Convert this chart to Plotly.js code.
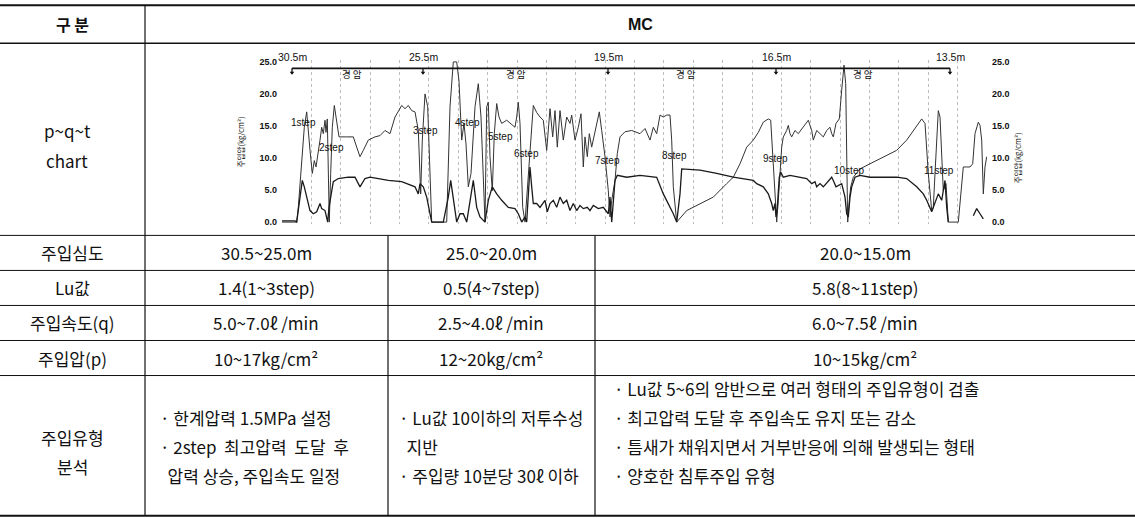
<!DOCTYPE html>
<html><head><meta charset="utf-8">
<script src="https://cdn.plot.ly/plotly-3.0.1.min.js"></script>
<style>html,body{margin:0;padding:0;background:#fff;}#chart{width:1135px;height:518px;}</style>
</head><body><div id="chart"></div>
<script>
// ---------- chart data (time axis in chart units, values in kg/cm2 scale 0-25) ----------
const pTime = [0,14.7,16.3,19.7,22.3,24.7,26.3,28,30.3,32.3,34,35.7,38,39.7,41.3,43,44,45.3,46.3,47.3,48.7,50.3,52.3,54.7,57,64.7,71.3,74.7,78,81.3,86.3,93,98,103,108,113,119.7,123,126.3,129.7,133,136.3,138.7,140.3,143,145.7,148,149.7,164.7,168,171.3,174.7,177,179.7,182,184,186.3,189,193,196.3,199,201.3,203,204.7,206.3,208,210.3,212.3,214.7,217,219.7,224.7,228,233,234.7,236.3,238,240.7,243,246.3,248.7,251.3,254.7,258,261.3,264.7,268,270.7,273,275.3,278,281.3,284.7,288,289.7,293,296.3,299,301.3,303,305.3,307.3,309.7,312,314.7,317.3,319.7,323,326.3,328,329.7,333,335.3,338,343,349.7,358,363,368,371.3,374.7,378,381.3,384.7,388,389.7,391.3,394.7,404.7,418,431.3,444.7,451.3,458,464.7,471.3,476.3,481.3,486.3,488.7,490.7,493,494.7,496.3,498,499.7,501.3,504.7,506.3,508,509.7,513,516.3,521.3,526.3,529.7,531.3,534.7,538,541.3,544.7,548,549.7,551.3,554,557.3,559.7,562,563.7,564.7,565.7,567.3,568.7,571.3,574.7,578,588,601.3,614.7,624.7,631.3,636.3,639.7,643,646.3,649.7,651.3,653,654.7,656.3,658,659.7,661.3,664,666.3,676.3,678,681.3,684.7,688,690.7,693,696.3,698,699.7,701.3,703,704.7];
const pPressure = [0,0,2.3,10.2,14.8,17.2,14.8,11.2,7.6,9.6,8.6,10.2,12.8,14.8,13.8,15.9,14,16.1,7.6,0,7.6,14.8,18.2,15.4,13.3,13.3,13.3,11.7,10.2,11.2,12.8,13.3,13.5,14.3,13.8,16.4,18.2,17.7,18.2,17.4,17.2,14.3,4.4,12.8,20,18,6.5,0,0,18,25,25,22,12.8,15.4,12.2,5.5,7.6,18,21.6,16.4,7.6,0,18,18.7,10.2,4.9,13.8,18.5,16.4,15.4,15.9,15.4,14.8,16.4,18.7,15.4,2.3,0,7.6,12.8,18.2,17.1,16.4,15.9,11.2,17.7,13.3,17.4,11.7,17.4,12.8,16.4,15.4,16.7,12.8,14.8,16.9,8.6,13.3,10.2,13.8,11.7,13.3,15.4,17.2,14.3,10.2,4.9,0.8,3.4,6.5,10.7,13.3,14.1,14.3,13.8,14.6,12.8,14.8,13.8,16.7,16.4,16.7,16.7,12.8,5.5,0,1.8,2.9,3.9,6,7,9.1,11.7,12.8,14,15.6,16.1,15.9,10.2,3.4,0,3.4,7.6,11.7,13.3,14.3,15.1,13.8,13.3,14.3,13.8,14.8,15.9,14.3,12.8,14.3,13.8,13.3,14.3,14.8,13.8,13.3,15.4,16.1,20.6,24.5,21.6,10.2,0,3.4,5.5,7,7.6,8.3,9.1,10.2,11.2,12.8,14.3,15.4,16.1,15.4,7.6,1.8,2.3,7.6,12.8,17.4,16.4,11.2,4.9,6,0,0,3.4,8.6,8.6,8.6,9.1,13.8,15.6,15.1,12.8,4.4,8.6,10.2];
const qTime = [0,13,14.7,18,20.3,22.3,24.7,28,31.3,34.7,38,39.7,43,45.7,47,49,51.3,56.3,66.3,73,78,83,88,106.3,119.7,133,136.3,138,141.3,144.7,149.7,161.3,166.3,168.7,171.3,174.7,178,181.3,184.7,188,191.3,194.7,198,203,206.3,210.3,214.7,219.7,226.3,233,236.3,239.7,243,244.7,248,249.7,251.3,254.7,258,263,265.3,268,271.3,274.7,278,281.3,284.7,288,291.3,294.7,298,301.3,305.3,308,311.3,316.3,321.3,326.3,328,329.7,331.3,333,335.3,344.7,358,374.7,381.3,386.3,391.3,394.7,398,399.7,418,434.7,451.3,471.3,474.7,481.3,486.3,489.7,491.3,493,494,495.3,497.3,498.7,501.3,508,518,524.7,529.7,533,534.7,538,541.3,546.3,549.7,551.3,554,559.7,563,564.7,566.3,568,569.7,573,578,588,601.3,614.7,624.7,634.7,641.3,644.7,649.7,653,656.3,659.7,663,664.7,666.3,678,691.3,694.7,698,701.3];
const qFlow = [0.2,0.2,0,3.4,6.5,5.5,3.9,1.8,1.3,1.6,2.9,2.1,1.8,0,2.3,4.4,6.3,6.8,7,7,5.5,6.8,7,6.5,6.3,5.5,4.4,6,5.5,3.9,0,0,3.9,6.5,3.4,0,1.3,1.3,0,3.4,6.5,2.3,0.8,0,3.4,5.5,4.4,3.4,2.3,2.1,1.3,0,0.8,0,8.6,5.5,2.9,2.9,2.3,3.4,1.6,2.9,3.4,2.3,3.9,2.9,3.4,1.8,2.9,1.8,2.6,2.1,2.3,1.8,2.6,2.1,2.3,1.3,3.9,0,3.9,6.5,7.3,7,7.3,7,4.4,2.9,1.3,0,4.4,8.3,8.1,7.6,7,6.5,6,5.5,4.4,2.9,1.8,2.9,0.8,2.3,7,7.8,7,7.3,7,6.8,6,6.3,5.5,6,5.5,6.5,7,6.5,5.5,6,3.9,1.3,0.8,3.9,5.5,7,7.3,7,7,7,6.8,5.5,4.4,3.4,1.6,2.9,4.4,3.4,6.5,2.3,0,null,1.0,2.1,1.3,0.5];

const stepLabels = ['1step','2step','3step','4step','5step','6step','7step','8step','9step','10step','11step'];
const stepTime   = [21,49,143,185,218,244,325,392,493,567,657];
const stepValue  = [15.6,11.7,14.3,15.6,13.3,10.7,9.6,10.4,9.9,8.1,8.1];

const depthLabels = ['30.5m','25.5m','19.5m','16.5m','13.5m'];
const depthTime   = [10,141,326,494,668];
const rockLabel   = '경 암';
const rockTime    = [70,234,404,581];

const yTicks = [0,5,10,15,20,25];
const yTickText = ['0.0','5.0','10.0','15.0','20.0','25.0'];
const axisTitle = '주입압(kg/cm²)';

// ---------- table text ----------
const headerLeft = '구 분';
const headerRight = 'MC';
const chartRowLabel = ['p~q~t','chart'];
const rowLabels = ['주입심도','Lu값','주입속도(q)','주입압(p)'];
const col1 = ['30.5~25.0m','1.4(1~3step)','5.0~7.0ℓ /min','10~17kg/cm²'];
const col2 = ['25.0~20.0m','0.5(4~7step)','2.5~4.0ℓ /min','12~20kg/cm²'];
const col3 = ['20.0~15.0m','5.8(8~11step)','6.0~7.5ℓ /min','10~15kg/cm²'];
const lastRowLabel = ['주입유형','분석'];
const notes1 = ['· 한계압력 1.5MPa 설정','· 2step  최고압력  도달  후','  압력 상승, 주입속도 일정'];
const notes2 = ['· Lu값 10이하의 저투수성','  지반','· 주입량 10분당 30ℓ 이하'];
const notes3 = ['· Lu값 5~6의 암반으로 여러 형태의 주입유형이 검출','· 최고압력 도달 후 주입속도 유지 또는 감소','· 틈새가 채워지면서 거부반응에 의해 발생되는 형태','· 양호한 침투주입 유형'];

// ---------- geometry ----------
const W=1135,H=518,L=282,R=987;
const yMin=-0.3,yMax=25.3,y0px=221.7,ppu=6.4;
const topPx=y0px-yMax*ppu, botPx=y0px-yMin*ppu;
const PX=x=>(x-L)/(R-L);
const PY=y=>(botPx-y)/(botPx-topPx);
const KR='"Noto Sans CJK KR", sans-serif';
const LAT='"Liberation Sans", Arial, sans-serif';

const rowLines=[235,270,305,340,375];
const rowMid=[252.5,287.5,322.5,357.5];
const colX=[145,388,595];
const colMid=[266,491,865];

const shapes=[];
function hline(y,x0,x1,w){shapes.push({type:'line',xref:'paper',yref:'paper',x0:PX(x0),x1:PX(x1),y0:PY(y),y1:PY(y),line:{color:'#111',width:w}});}
function vline(x,y0,y1,w){shapes.push({type:'line',xref:'paper',yref:'paper',x0:PX(x),x1:PX(x),y0:PY(y0),y1:PY(y1),line:{color:'#111',width:w}});}
hline(5,0,W,2); hline(43,0,W,1.5);
rowLines.forEach(y=>hline(y,0,W,1));
hline(515,0,W,2);
vline(colX[0],5,515,1.2);
vline(colX[1],rowLines[0],515,1.2);
vline(colX[2],rowLines[0],515,1.2);
// depth reference line on chart
shapes.push({type:'line',xref:'x',yref:'y',x0:depthTime[0],x1:depthTime[depthTime.length-1],y0:24,y1:24,line:{color:'#111',width:1.6}});

const ann=[];
function T(text,x,y,o){o=o||{};ann.push({text:text,xref:'paper',yref:'paper',x:PX(x),y:PY(y),xanchor:o.xa||'center',yanchor:'middle',showarrow:false,textangle:o.ang||0,font:{family:o.fam||KR,size:o.size||17,color:'#111',weight:o.w||'normal'}});}
T(headerLeft,72,24,{w:'bold',size:16});
T(headerRight,640,24,{w:'bold',size:16,fam:LAT});
T(chartRowLabel[0],67,130);
T(chartRowLabel[1],67,160);
rowLabels.forEach((s,i)=>T(s,72,rowMid[i]));
col1.forEach((s,i)=>T(s,colMid[0],rowMid[i]));
col2.forEach((s,i)=>T(s,colMid[1],rowMid[i]));
col3.forEach((s,i)=>T(s,colMid[2],rowMid[i]));
T(lastRowLabel[0],72,437);
T(lastRowLabel[1],72,466);
const noteY3=[388,417,446,475];
notes1.forEach((s,i)=>T(s,158,noteY3[i+1],{xa:'left'}));
notes2.forEach((s,i)=>T(s,397,noteY3[i+1],{xa:'left'}));
notes3.forEach((s,i)=>T(s,612,noteY3[i],{xa:'left'}));
T(axisTitle,240,142,{ang:-90,size:7.5});
T(axisTitle,1017,158,{ang:-90,size:7.5});

// chart annotations
stepLabels.forEach((s,i)=>ann.push({text:s,x:stepTime[i],y:stepValue[i],xref:'x',yref:'y',showarrow:false,font:{family:LAT,size:10,color:'#111'}}));
depthLabels.forEach((s,i)=>ann.push({text:s,x:depthTime[i],y:PY(57),xref:'x',yref:'paper',xanchor:'center',yanchor:'middle',showarrow:false,font:{family:LAT,size:10.5,color:'#111'}}));
rockTime.forEach(t=>ann.push({text:rockLabel,x:t,y:23.1,xref:'x',yref:'y',showarrow:false,font:{family:KR,size:9.5,color:'#111'}}));

// tick marks under depth line
const tickX=[],tickY=[];
depthTime.forEach(t=>{tickX.push(t,t,null);tickY.push(24,23.1,null);});

const traces=[
 {x:pTime,y:pPressure,type:'scatter',mode:'lines',line:{color:'#333',width:1},hoverinfo:'skip',showlegend:false},
 {x:qTime,y:qFlow,type:'scatter',mode:'lines',yaxis:'y2',line:{color:'#1a1a1a',width:1.3},hoverinfo:'skip',showlegend:false,connectgaps:false},
 {x:tickX,y:tickY,type:'scatter',mode:'lines',line:{color:'#111',width:1.3},hoverinfo:'skip',showlegend:false},
 {x:depthTime,y:depthTime.map(()=>23.3),type:'scatter',mode:'markers',marker:{symbol:'triangle-down',size:4,color:'#111'},hoverinfo:'skip',showlegend:false}
];

const yax={range:[yMin,yMax],tickvals:yTicks,ticktext:yTickText,showgrid:false,zeroline:false,showline:false,ticks:'',ticklabelstandoff:4,tickfont:{family:LAT,size:9,color:'#111',weight:'bold'},fixedrange:true};
const layout={
 width:W,height:H,autosize:false,
 margin:{l:L,r:W-R,t:topPx,b:H-botPx,pad:0},
 paper_bgcolor:'#fff',plot_bgcolor:'#fff',
 xaxis:{range:[0,705],tick0:0,dtick:705/24,showgrid:true,gridcolor:'#bdbdbd',griddash:'dot',gridwidth:1,showticklabels:false,zeroline:false,showline:false,ticks:'',fixedrange:true},
 yaxis:Object.assign({},yax),
 yaxis2:Object.assign({},yax,{overlaying:'y',side:'right'}),
 shapes:shapes,annotations:ann,showlegend:false
};
Plotly.newPlot('chart',traces,layout,{staticPlot:true,displayModeBar:false});
</script></body></html>
